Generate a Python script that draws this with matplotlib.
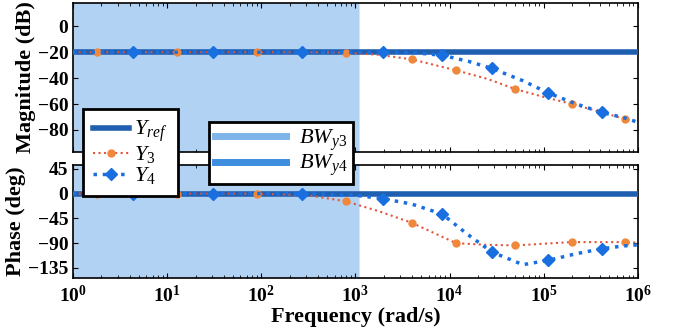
import numpy as np
import matplotlib
matplotlib.use("Agg")
import matplotlib.pyplot as plt
from matplotlib.lines import Line2D

plt.rcParams['font.family'] = 'Liberation Serif'
plt.rcParams['font.weight'] = 'bold'
plt.rcParams['axes.labelweight'] = 'bold'
plt.rcParams['mathtext.fontset'] = 'custom'
plt.rcParams['mathtext.rm'] = 'Liberation Serif:regular'
plt.rcParams['mathtext.bf'] = 'Liberation Serif:bold'
plt.rcParams['mathtext.it'] = 'Liberation Serif:italic:regular'

# reference output
yref_mag = -20.0
yref_phase = 0.0

# Y3 response (log10 of frequency, magnitude dB, phase deg)
y3_logf = [0, 0.25, 1.1, 1.95, 2.5, 2.9, 3.25, 3.6, 4.07, 4.4, 4.7, 5.0, 5.3, 5.6, 5.86, 6.0]
y3_mag = [-20, -20, -20, -20, -20, -20.3, -22, -25.5, -34, -40.5, -48.5, -54.5, -60, -66, -71.5, -74]
y3_phase = [0, 0, 0, 0, -3, -14, -32, -53, -90, -93, -94, -91, -88, -88, -88, -89]
y3_marks = [1, 2, 3, 5, 7, 8, 10, 12, 14]

# Y4 response
y4_logf = [0, 0.64, 1.49, 2.43, 3.0, 3.29, 3.6, 3.92, 4.2, 4.45, 4.78, 5.05, 5.35, 5.62, 5.85, 6.0]
y4_mag = [-20, -20, -20, -20, -20, -20, -20.3, -22.3, -27, -32.5, -42, -51.5, -60, -66.5, -70.5, -74]
y4_phase = [0, 0, 0, 0, -3, -9, -19, -37, -75, -106, -129, -121, -109, -100, -95, -93]
y4_marks = [1, 2, 3, 5, 7, 9, 11, 13]

# bandwidths (rad/s)
bw_y3 = 1.1e3
bw_y4 = 1.12e3

mag_ticks = [0, -20, -40, -60, -80]
phase_ticks = [45, 0, -45, -90, -135]
x_exponents = [0, 1, 2, 3, 4, 5, 6]

c_ref = '#1f5fb0'
c_y3 = '#f0883c'
c_y3_line = '#e2553a'
c_y4 = '#1a6fe0'
c_bw = '#2882dc'

fig = plt.figure(figsize=(6.77, 3.34), dpi=100)
ax1 = fig.add_axes([0.108, 0.545, 0.834, 0.446])
ax2 = fig.add_axes([0.108, 0.168, 0.834, 0.338])

f3 = 10.0 ** np.array(y3_logf)
f4 = 10.0 ** np.array(y4_logf)

for ax, ref, d3, d4 in [(ax1, yref_mag, y3_mag, y4_mag), (ax2, yref_phase, y3_phase, y4_phase)]:
    ax.axvspan(1, bw_y3, color=c_bw, alpha=0.2, lw=0)
    ax.axvspan(1, bw_y4, color=c_bw, alpha=0.2, lw=0)
    ax.axhline(ref, color=c_ref, lw=4, zorder=3)
    ax.plot(f3, d3, ':', color=c_y3_line, lw=1.5, marker='o', ms=5,
            mfc=c_y3, mec=c_y3, markevery=y3_marks, zorder=4)
    ax.plot(f4, d4, ':', color=c_y4, lw=2.5, marker='D', ms=6,
            mfc=c_y4, mec=c_y4, markevery=y4_marks, zorder=5)
    ax.set_xscale('log')
    ax.set_xlim(1, 1e6)
    ax.tick_params(which='both', direction='in', top=True, right=True, labelsize=14)
    for s in ax.spines.values():
        s.set_linewidth(1.2)

ax1.set_ylim(-97, 18)
ax1.set_yticks(mag_ticks)
ax1.set_xticklabels([])
ax1.set_ylabel('Magnitude (dB)', fontsize=16, labelpad=1)

ax2.set_ylim(-153, 52)
ax2.set_yticks(phase_ticks)
ax2.set_xticks([10.0 ** e for e in x_exponents])
ax2.set_xticklabels([r'$\mathbf{10^{%d}}$' % e for e in x_exponents])
ax2.tick_params(axis='x', pad=5)
ax2.set_ylabel('Phase (deg)', fontsize=16, labelpad=1)
ax2.set_xlabel('Frequency (rad/s)', fontsize=16, labelpad=1)

h1 = [Line2D([], [], color=c_ref, lw=4),
      Line2D([], [], ls=':', color=c_y3_line, lw=1.5, marker='o', ms=5, mfc=c_y3, mec=c_y3),
      Line2D([], [], ls=':', color=c_y4, lw=2.5, marker='D', ms=6, mfc=c_y4, mec=c_y4)]
l1 = fig.legend(h1, [r'$Y_{ref}$', r'$Y_3$', r'$Y_4$'], numpoints=1,
                loc='upper left', bbox_to_anchor=(0.1226, 0.674), borderaxespad=0,
                fontsize=16, handlelength=1.6, handletextpad=0.25, labelspacing=0.0,
                fancybox=False, framealpha=1, edgecolor='black', borderpad=0.45)
l1.get_frame().set_linewidth(2)

h2 = [Line2D([], [], color=c_bw, lw=5, alpha=0.6),
      Line2D([], [], color=c_bw, lw=5, alpha=0.9)]
l2 = fig.legend(h2, [r'$BW_{y3}$', r'$BW_{y4}$'],
                loc='upper left', bbox_to_anchor=(0.309, 0.635), borderaxespad=0,
                fontsize=16, handlelength=3.2, handletextpad=0.6, labelspacing=0.0,
                fancybox=False, framealpha=1, edgecolor='black', borderpad=0.25)
l2.get_frame().set_linewidth(2)

fig.savefig('out.png', dpi=100)
